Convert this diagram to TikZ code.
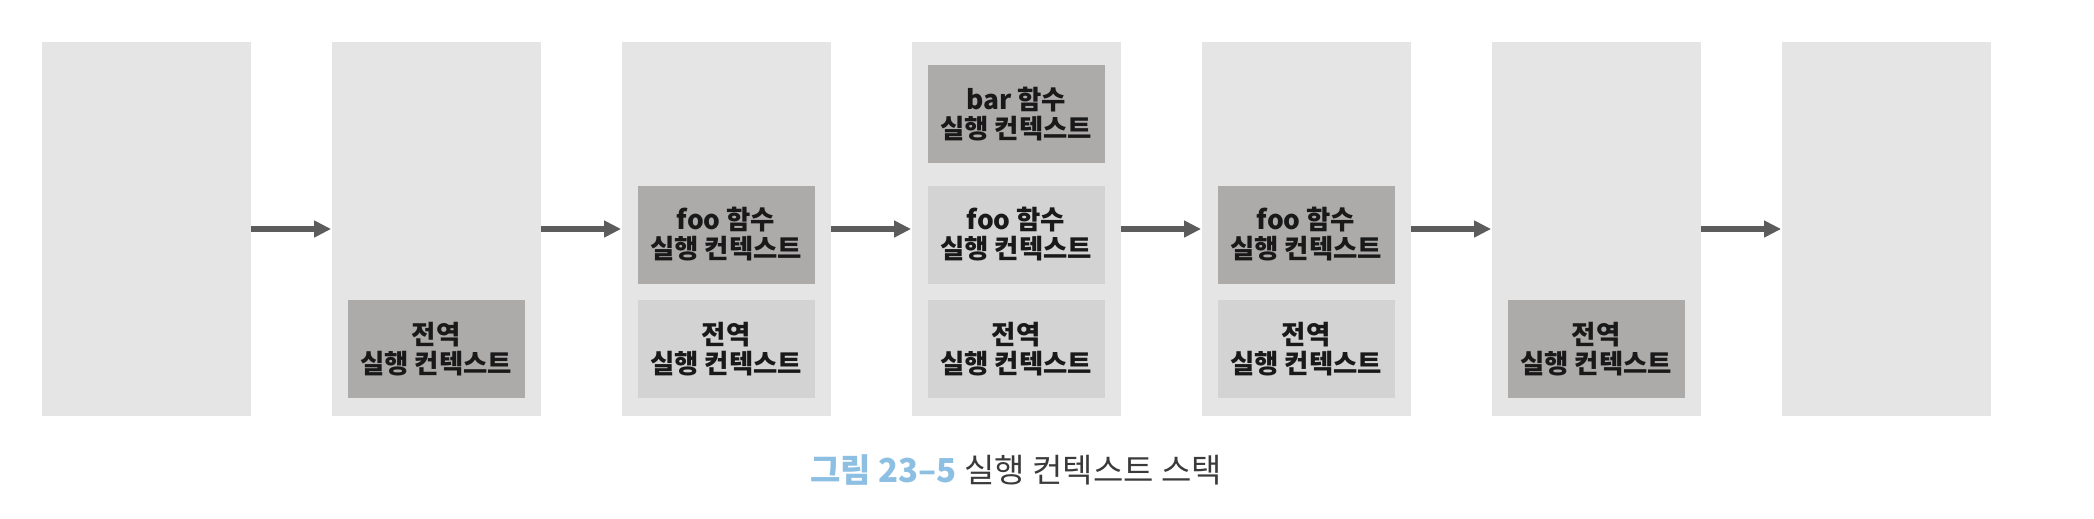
\documentclass[tikz,border=0pt]{standalone}
\usepackage{fontspec}
\setmainfont{Noto Sans CJK KR}
\usetikzlibrary{positioning,arrows.meta}

\definecolor{stackbg}{RGB}{230,229,230}
\definecolor{ctxdark}{RGB}{173,170,170}
\definecolor{ctxlight}{RGB}{211,211,211}
\definecolor{arrowgray}{RGB}{92,92,92}
\definecolor{capblue}{RGB}{141,191,227}
\definecolor{capgray}{RGB}{58,58,58}

\tikzset{
  stackcol/.style={fill=stackbg, minimum width=104.5pt, minimum height=187.3pt, inner sep=0pt},
  ctx/.style={minimum width=88.5pt, minimum height=49pt, inner sep=0pt, align=center,
    text=black!90, font=\bfseries\fontsize{13.2}{14.5}\selectfont},
  ctxtop/.style={ctx, fill=ctxdark},
  ctxbelow/.style={ctx, fill=ctxlight},
  push/.style={draw=arrowgray, line width=2.6pt, -{Triangle[width=8pt,length=8.5pt]}}
}

\begin{document}
\begin{tikzpicture}[x=0.5pt, y=-0.5pt]
  \useasboundingbox (0,0) rectangle (2094,519);
  % stacks
  \node[stackcol] (stack1) at (146,229) {};
  \node[stackcol] (stack2) at (436,229) {};
  \node[stackcol] (stack3) at (726,229) {};
  \node[stackcol] (stack4) at (1016,229) {};
  \node[stackcol] (stack5) at (1306,229) {};
  \node[stackcol] (stack6) at (1596,229) {};
  \node[stackcol] (stack7) at (1886,229) {};
  % contexts, bottom up
  \node[ctxtop, above=9pt of stack2.south] (glob2) {전역\\실행 컨텍스트};
  \node[ctxbelow, above=9pt of stack3.south] (glob3) {전역\\실행 컨텍스트};
  \node[ctxtop, above=8pt of glob3] (foo3) {foo 함수\\실행 컨텍스트};
  \node[ctxbelow, above=9pt of stack4.south] (glob4) {전역\\실행 컨텍스트};
  \node[ctxbelow, above=8pt of glob4] (foo4) {foo 함수\\실행 컨텍스트};
  \node[ctxtop, above=11pt of foo4] (bar4) {bar 함수\\실행 컨텍스트};
  \node[ctxbelow, above=9pt of stack5.south] (glob5) {전역\\실행 컨텍스트};
  \node[ctxtop, above=8pt of glob5] (foo5) {foo 함수\\실행 컨텍스트};
  \node[ctxtop, above=9pt of stack6.south] (glob6) {전역\\실행 컨텍스트};
  % arrows
  \draw[push] (stack1.east) -- (stack2.west);
  \draw[push] (stack2.east) -- (stack3.west);
  \draw[push] (stack3.east) -- (stack4.west);
  \draw[push] (stack4.east) -- (stack5.west);
  \draw[push] (stack5.east) -- (stack6.west);
  \draw[push] (stack6.east) -- (stack7.west);
  % caption
  \node[font=\fontsize{16.5}{19}\selectfont, text=capgray] (caption) at (1016,470)
    {\textcolor{capblue}{\bfseries 그림 23–5} 실행 컨텍스트 스택};
\end{tikzpicture}
\end{document}
